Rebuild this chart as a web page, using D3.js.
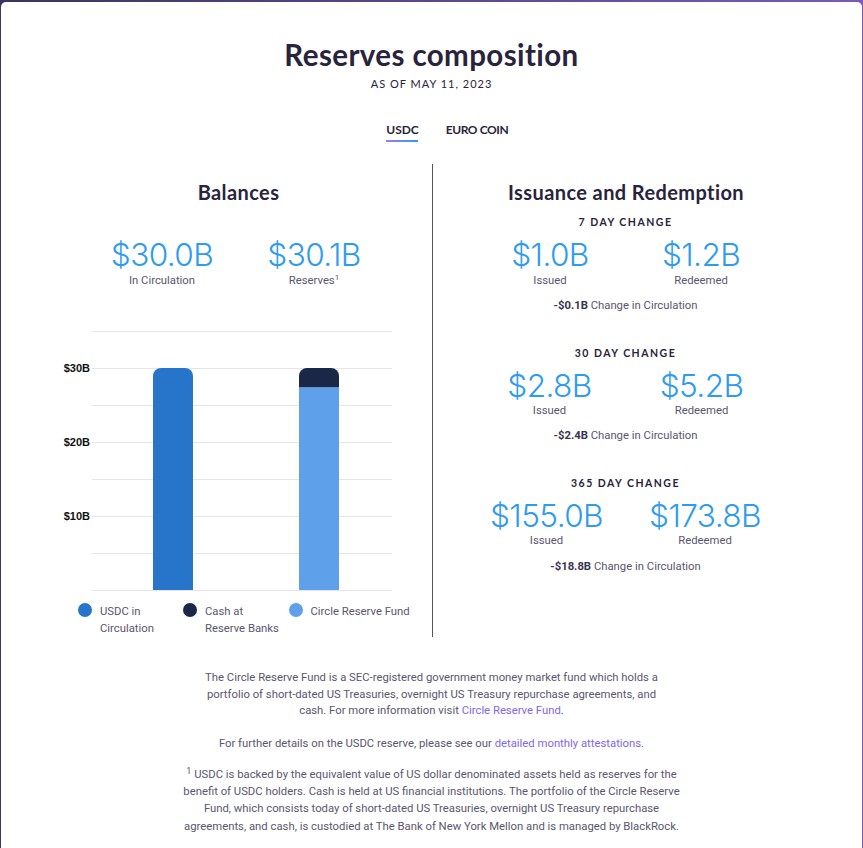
<!DOCTYPE html>
<html>
<head>
<meta charset="utf-8">
<script src="https://cdn.jsdelivr.net/npm/d3@7"></script>
<style>
  html, body { margin: 0; padding: 0; background: #fff; overflow: hidden; }
  text { font-family: "Roboto", sans-serif; fill: #5a5670; }
</style>
</head>
<body>
<svg id="chart" width="863" height="848"></svg>
<script>
// chart values
const barNames = ["USDC in Circulation", "Reserves"];
const circulation = [30.0, 0];
const cash = [0, 2.6];
const reserveFund = [0, 27.4];
const yTicks = [10, 20, 30];
const gridTicks = [0, 5, 10, 15, 20, 25, 30, 35];

const legendLabels = [["USDC in", "Circulation"], ["Cash at", "Reserve Banks"], ["Circle Reserve Fund"]];
const legendColors = ["#2775ca", "#1a2747", "#5ea0ea"];

const changeTitles = ["7 DAY CHANGE", "30 DAY CHANGE", "365 DAY CHANGE"];
const issued = ["$1.0B", "$2.8B", "$155.0B"];
const redeemed = ["$1.2B", "$5.2B", "$173.8B"];
const netChange = ["-$0.1B", "-$2.4B", "-$18.8B"];

const dark = "#29233b", grey = "#5a5670", blue = "#2d9bf0", purple = "#8265f0";
const heading = "Lato", bigNum = "Inter";
const bodySize = 11.3;

const svg = d3.select("#chart");

// page frame
const defs = svg.append("defs");
const topGrad = defs.append("linearGradient").attr("id", "topGrad");
topGrad.append("stop").attr("offset", "0%").attr("stop-color", "#3b3560");
topGrad.append("stop").attr("offset", "100%").attr("stop-color", "#7a5bb8");
const tabGrad = defs.append("linearGradient").attr("id", "tabGrad");
tabGrad.append("stop").attr("offset", "0%").attr("stop-color", "#9b7bf5");
tabGrad.append("stop").attr("offset", "100%").attr("stop-color", "#2d9bf0");

svg.append("rect").attr("width", 863).attr("height", 848).attr("fill", "url(#topGrad)");
svg.append("rect").attr("x", 1).attr("y", 2).attr("width", 861).attr("height", 860).attr("rx", 5).attr("fill", "#fff");

function label(x, y, str, size, opts = {}) {
  return svg.append("text")
    .attr("x", x).attr("y", y)
    .attr("text-anchor", opts.anchor || "middle")
    .style("font-family", opts.font || null)
    .style("font-size", size + "px")
    .style("font-weight", opts.weight || 400)
    .style("letter-spacing", opts.spacing || null)
    .style("fill", opts.fill || grey)
    .text(str);
}
const bigOpts = { fill: blue, font: bigNum, weight: 300, spacing: "-0.6px" };
const bigSize = 31.6;

// header
label(431.5, 65.5, "Reserves composition", 29.5, { font: heading, weight: 700, fill: dark, spacing: "0.4px" });
label(431.5, 88, "AS OF MAY 11, 2023", 11, { font: heading, fill: dark, spacing: "1px" });
label(402.5, 134, "USDC", 12, { font: heading, weight: 700, fill: dark });
label(477, 134, "EURO COIN", 12, { font: heading, weight: 700, fill: dark, spacing: "-0.4px" });
svg.append("rect").attr("x", 386).attr("y", 140).attr("width", 32).attr("height", 2).attr("fill", "url(#tabGrad)");

// divider between the two columns
svg.append("line").attr("x1", 432.5).attr("x2", 432.5).attr("y1", 164).attr("y2", 637).attr("stroke", "#55525f");

// left column
label(238.5, 199.5, "Balances", 20, { font: heading, weight: 700, fill: dark, spacing: "0.4px" });
label(162, 266, "$30.0B", bigSize, bigOpts);
label(162, 284, "In Circulation", bodySize);
label(314, 266, "$30.1B", bigSize, bigOpts);
const sup = label(314, 284, "Reserves", bodySize);
sup.append("tspan").attr("dy", -4).style("font-size", "8px").text("1");

// bar chart
const y = d3.scaleLinear().domain([0, 35]).range([590, 331]);
const x = d3.scalePoint().domain(barNames).range([173, 319]);

const axis = d3.axisLeft(y).tickValues(gridTicks).tickSize(-300).tickPadding(2)
  .tickFormat(d => yTicks.includes(d) ? `$${d}B` : "");
const axisG = svg.append("g").attr("transform", "translate(92,0)").call(axis);
axisG.select(".domain").remove();
axisG.selectAll(".tick line").attr("stroke", "#e6e6e8");
axisG.selectAll(".tick text").style("font-family", "Liberation Sans, sans-serif")
  .style("font-size", "11px").style("font-weight", 700).style("fill", "#111");

// bar with rounded top corners only
function topRounded(x0, w, yTop, yBase, r) {
  const p = d3.path();
  p.moveTo(x0, yBase);
  p.lineTo(x0, yTop + r);
  p.arcTo(x0, yTop, x0 + r, yTop, r);
  p.lineTo(x0 + w - r, yTop);
  p.arcTo(x0 + w, yTop, x0 + w, yTop + r, r);
  p.lineTo(x0 + w, yBase);
  p.closePath();
  return p.toString();
}

const barW = 40;
const barX = name => x(name) - barW / 2;
const stacks = d3.stack().keys(["circulation", "reserveFund", "cash"])(
  barNames.map((n, i) => ({ name: n, circulation: circulation[i], reserveFund: reserveFund[i], cash: cash[i] }))
);
const stackColors = { circulation: legendColors[0], cash: legendColors[1], reserveFund: legendColors[2] };

stacks.forEach(layer => {
  svg.append("g").selectAll("path").data(layer.filter(d => d[1] > d[0])).join("path")
    .attr("fill", stackColors[layer.key])
    .attr("d", d => topRounded(barX(d.data.name), barW, y(d[1]), y(d[0]),
      layer.key === "reserveFund" ? 0 : 8));
});

// legend
const legendX = [85, 190, 296];
const legendTextX = [100, 205, 310.5];
legendLabels.forEach((lines, i) => {
  svg.append("circle").attr("cx", legendX[i]).attr("cy", 610).attr("r", 7).attr("fill", legendColors[i]);
  lines.forEach((l, j) => label(legendTextX[i], 615 + j * 17, l, bodySize, { anchor: "start" }));
});

// right column
label(626, 199.5, "Issuance and Redemption", 20, { font: heading, weight: 700, fill: dark, spacing: "0.4px" });

const blockY = [226, 357, 487];
const captionY = [284, 414, 544];
const netY = [309, 439, 570];
const colIssued = [550, 549.5, 546.5];
const colRedeemed = [701, 701.5, 705];
changeTitles.forEach((t, i) => {
  const b = blockY[i];
  label(625.5, b, t, 10.5, { font: heading, weight: 700, fill: dark, spacing: "1.5px" });
  label(colIssued[i], b + 40, issued[i], bigSize, bigOpts);
  label(colIssued[i], captionY[i], "Issued", bodySize);
  label(colRedeemed[i], b + 40, redeemed[i], bigSize, bigOpts);
  label(colRedeemed[i], captionY[i], "Redeemed", bodySize);
  const n = label(625.5, netY[i], "", bodySize);
  n.append("tspan").style("font-weight", 700).style("fill", "#3a3450").text(netChange[i]);
  n.append("tspan").text(" Change in Circulation");
});

// footnotes
const notes = [
  [681, [["The Circle Reserve Fund is a SEC-registered government money market fund which holds a"]]],
  [698, [["portfolio of short-dated US Treasuries, overnight US Treasury repurchase agreements, and"]]],
  [714, [["cash. For more information visit "], ["Circle Reserve Fund", 1], ["."]]],
  [747, [["For further details on the USDC reserve, please see our "], ["detailed monthly attestations", 1], ["."]]],
  [778, [["USDC is backed by the equivalent value of US dollar denominated assets held as reserves for the"]], "1"],
  [795, [["benefit of USDC holders. Cash is held at US financial institutions. The portfolio of the Circle Reserve"]]],
  [812, [["Fund, which consists today of short-dated US Treasuries, overnight US Treasury repurchase"]]],
  [830, [["agreements, and cash, is custodied at The Bank of New York Mellon and is managed by BlackRock."]]]
];
notes.forEach(([ny, parts, mark]) => {
  const t = label(431.5, ny, "", bodySize);
  if (mark) {
    t.append("tspan").attr("dy", -4).style("font-size", "9px").text(mark);
    t.append("tspan").attr("dy", 4).text(" ");
  }
  parts.forEach(([s, link]) => t.append("tspan").style("fill", link ? purple : grey).text(s));
});
</script>
</body>
</html>
